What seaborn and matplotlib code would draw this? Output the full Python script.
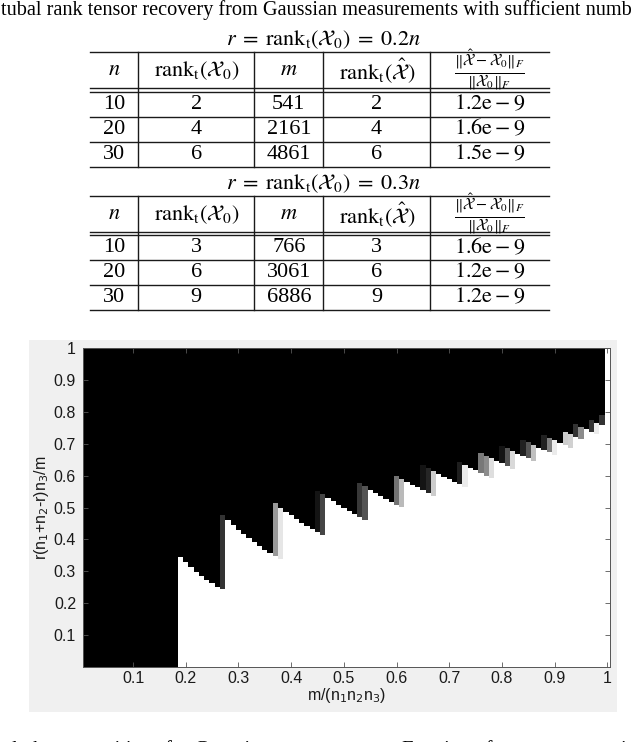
import numpy as np
import pandas as pd
import matplotlib
matplotlib.use("Agg")
import matplotlib.pyplot as plt
import seaborn as sns
from matplotlib.patches import Rectangle

# ---- table values ----
n_vals = [10, 20, 30]
rank_02 = [2, 4, 6]
m_02 = [541, 2161, 4861]
rank_hat_02 = [2, 4, 6]
err_02 = ["1.2", "1.6", "1.5"]

rank_03 = [3, 6, 9]
m_03 = [766, 3061, 6886]
rank_hat_03 = [3, 6, 9]
err_03 = ["1.6", "1.2", "1.2"]

# ---- phase transition image ----
# columns: m/(n1 n2 n3) = 0.01 ... 1.00
x_frac = np.round(np.arange(1, 101) * 0.01, 2)

# top of the white (recovered) region in each column
white_top = [0.0] * 18 + [
    0.345, 0.328, 0.312, 0.298, 0.285, 0.273, 0.262, 0.252, 0.243,          # 0.19-0.27
    0.460, 0.444, 0.430, 0.416, 0.403, 0.391, 0.379, 0.368, 0.358, 0.348, 0.339,  # 0.28-0.38
    0.487, 0.475, 0.463, 0.452, 0.442, 0.432, 0.422, 0.413,                 # 0.39-0.46
    0.530, 0.519, 0.508, 0.498, 0.488, 0.479, 0.470, 0.461,                 # 0.47-0.54
    0.556, 0.546, 0.536, 0.527, 0.518, 0.509, 0.501,                        # 0.55-0.61
    0.581, 0.571, 0.563, 0.554, 0.545, 0.537,                               # 0.62-0.67
    0.606, 0.597, 0.589, 0.581, 0.573, 0.565,                               # 0.68-0.73
    0.625, 0.616, 0.608, 0.600, 0.593,                                      # 0.74-0.78
    0.646, 0.638, 0.630, 0.622,                                             # 0.79-0.82
    0.669, 0.661, 0.654, 0.646,                                             # 0.83-0.86
    0.688, 0.681, 0.673, 0.665,                                             # 0.87-0.90
    0.703, 0.696, 0.688,                                                    # 0.91-0.93
    0.722, 0.715, 0.745, 0.738, 0.730, 0.758, 1.0,                          # 0.94-1.00
]

# partially recovered bands (gray) just above the white region
gray_x = [0.27, 0.37, 0.38, 0.45, 0.46, 0.53, 0.54, 0.60, 0.61, 0.65, 0.66,
          0.67, 0.72, 0.73, 0.76, 0.77, 0.78, 0.80, 0.81, 0.82, 0.84, 0.85,
          0.86, 0.88, 0.89, 0.90, 0.92, 0.93, 0.94, 0.95, 0.97, 0.98, 0.99]
gray_top = [0.477, 0.514, 0.500, 0.553, 0.541, 0.577, 0.566, 0.600, 0.590,
            0.634, 0.625, 0.615, 0.642, 0.633, 0.671, 0.662, 0.654, 0.694,
            0.686, 0.678, 0.713, 0.705, 0.696, 0.727, 0.719, 0.711, 0.738,
            0.730, 0.761, 0.753, 0.773, 0.765, 0.790]
gray_level = [0.20, 0.60, 0.90, 0.08, 0.27, 0.22, 0.33, 0.45, 0.73, 0.08, 0.15,
              0.80, 0.12, 0.92, 0.47, 0.55, 0.87, 0.08, 0.33, 0.85, 0.13, 0.33,
              0.75, 0.13, 0.50, 0.92, 0.80, 0.82, 0.20, 0.55, 0.20, 0.92, 0.20]

x_ticks = [0.1, 0.2, 0.3, 0.4, 0.5, 0.6, 0.7, 0.8, 0.9, 1.0]
x_tick_labels = ["0.1", "0.2", "0.3", "0.4", "0.5", "0.6", "0.7", "0.8", "0.9", "1"]
y_ticks = [0.1, 0.2, 0.3, 0.4, 0.5, 0.6, 0.7, 0.8, 0.9, 1.0]
y_tick_labels = ["0.1", "0.2", "0.3", "0.4", "0.5", "0.6", "0.7", "0.8", "0.9", "1"]

# build the success-rate grid
n_rows = 1000
y_centers = (np.arange(n_rows) + 0.5) / n_rows
img = np.zeros((n_rows, len(x_frac)))
for j, top in enumerate(white_top):
    img[y_centers <= top, j] = 1.0
for gx, gt, gl in zip(gray_x, gray_top, gray_level):
    j = int(np.argmin(np.abs(x_frac - gx)))
    band = (y_centers > white_top[j]) & (y_centers <= gt)
    img[band, j] = gl
df = pd.DataFrame(img[::-1], index=np.round(y_centers[::-1], 4), columns=x_frac)

plt.rcParams["font.family"] = "Liberation Serif"
plt.rcParams["mathtext.fontset"] = "stix"

W, H = 640, 742
fig = plt.figure(figsize=(W / 100, H / 100), dpi=100)

# background layer in pixel coordinates
bg = fig.add_axes([0, 0, 1, 1], zorder=0)
bg.set_xlim(0, W)
bg.set_ylim(H, 0)
bg.axis("off")

bg.add_patch(Rectangle((28.5, 340), 588.5, 372, color="#f0f0f0", lw=0))

bg.text(1, 10, "tubal rank tensor recovery from Gaussian measurements with sufficient numb",
        fontsize=14.6, va="center", ha="left")
bg.text(-22, 755, "ental phase transitions for Gaussian measurements. Fraction of correct recoveries",
        fontsize=14.8, va="baseline", ha="left")

tab_size = 16
col_edges = [90, 138.3, 254.3, 323.3, 430, 549]
col_mid = [(a + b) / 2 for a, b in zip(col_edges[:-1], col_edges[1:])]
header = [r"$n$", r"$\mathrm{rank}_{\mathrm{t}}(\mathcal{X}_0)$", r"$m$",
          r"$\mathrm{rank}_{\mathrm{t}}(\hat{\mathcal{X}})$",
          r"$\frac{\Vert\hat{\mathcal{X}}-\mathcal{X}_0\Vert_F}{\Vert\mathcal{X}_0\Vert_F}$"]
header_size = [tab_size, tab_size, tab_size, tab_size, 16.5]


def draw_block(y0, title, ranks, ms, rank_hats, errs):
    # y0 = top rule
    bg.text(323, y0 - 12.5, title, fontsize=tab_size, ha="center", va="center")
    rules = [y0, y0 + 36, y0 + 39.4, y0 + 64.4, y0 + 89.4, y0 + 114.4]
    for yy in rules:
        bg.plot([col_edges[0], col_edges[-1]], [yy, yy], color="#1a1a1a", lw=1.0)
    for xx in col_edges[1:-1]:
        bg.plot([xx, xx], [y0, y0 + 114.4], color="#1a1a1a", lw=1.0)
    for xm, h, fs in zip(col_mid, header, header_size):
        bg.text(xm, y0 + 18.5, h, fontsize=fs, ha="center", va="center")
    for i in range(3):
        yc = y0 + 52 + 25 * i
        row = [str(n_vals[i]), str(ranks[i]), str(ms[i]), str(rank_hats[i]),
               r"$%s\mathrm{e}-9$" % errs[i]]
        for xm, s in zip(col_mid, row):
            bg.text(xm, yc, s, fontsize=tab_size, ha="center", va="center")


draw_block(52.3, r"$r\;=\;\mathrm{rank}_{\mathrm{t}}(\mathcal{X}_0)\;=\;0.2n$",
           rank_02, m_02, rank_hat_02, err_02)
draw_block(195.7, r"$r\;=\;\mathrm{rank}_{\mathrm{t}}(\mathcal{X}_0)\;=\;0.3n$",
           rank_03, m_03, rank_hat_03, err_03)

# phase transition heatmap
ax = fig.add_axes([83 / W, (H - 667) / H, 527 / W, 319 / H], zorder=1)
sns.heatmap(df, ax=ax, cmap="gray", vmin=0, vmax=1, cbar=False,
            xticklabels=False, yticklabels=False, rasterized=True)

xpos = [(t - x_frac[0]) / 0.01 + 0.5 for t in x_ticks]
ypos = [(1 - t) * n_rows for t in y_ticks]
ax.set_xticks(xpos)
ax.set_xticklabels(x_tick_labels, family="Liberation Sans")
ax.set_yticks(ypos)
ax.set_yticklabels(y_tick_labels, family="Liberation Sans")
ax.tick_params(direction="in", length=3.5, width=0.6, top=True, right=True,
               color="#555555", labelcolor="#1a1a1a", labelsize=11.5)
ax.tick_params(axis="x", pad=3)
ax.tick_params(axis="y", pad=5)
for s in ax.spines.values():
    s.set_visible(True)
    s.set_color("#555555")
    s.set_linewidth(0.7)

ax.set_xlabel(r"m/(n$_1$n$_2$n$_3$)", family="Liberation Sans", fontsize=11.5,
              color="#1a1a1a", labelpad=0, math_fontfamily="dejavusans")
ax.set_ylabel(r"r(n$_1$+n$_2$-r)n$_3$/m", family="Liberation Sans", fontsize=11.5,
              color="#1a1a1a", labelpad=2, math_fontfamily="dejavusans")

fig.savefig("out.png", dpi=100)
